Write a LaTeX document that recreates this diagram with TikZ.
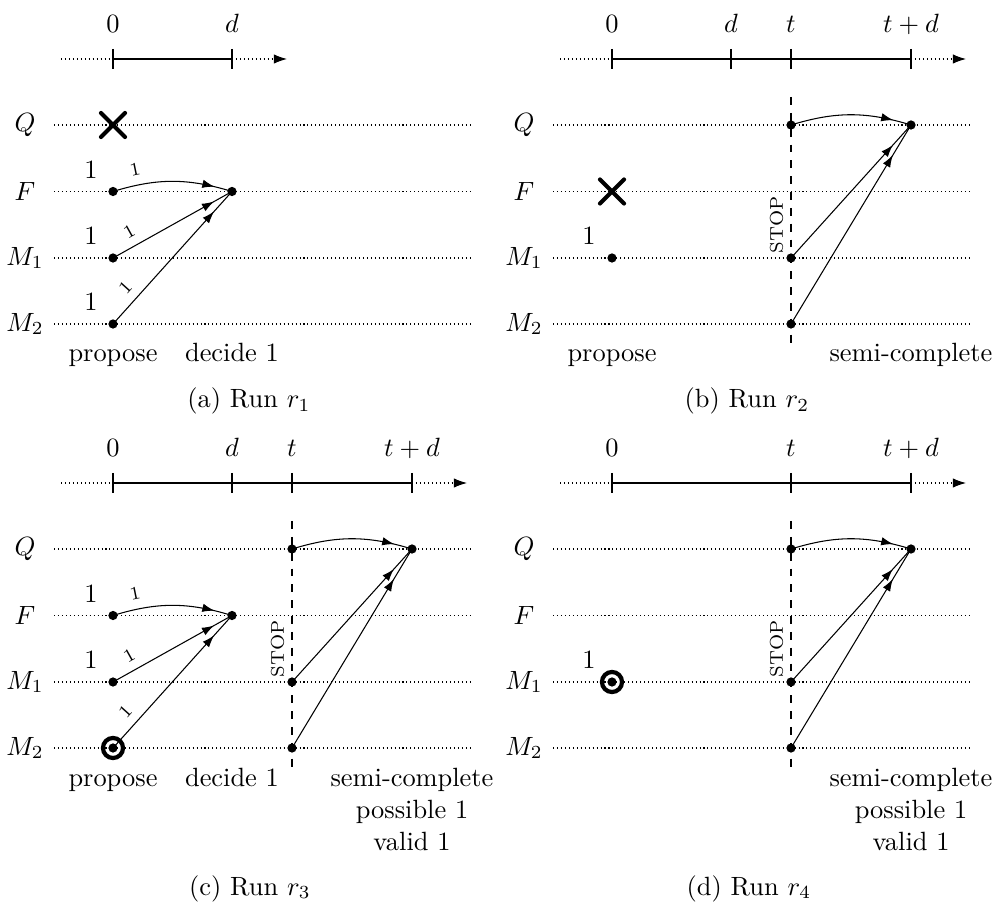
\documentclass[tikz,border=0pt]{standalone}
\usetikzlibrary{decorations.markings,calc,arrows.meta}
\begin{document}
\begin{tikzpicture}[x=0.3788pt,y=-0.3788pt,
  rowline/.style={dash pattern=on 0.4pt off 1.1pt},
  rowlab/.style={inner sep=0pt},
  ticklab/.style={anchor=base,inner sep=0pt},
  btm/.style={anchor=base,inner sep=0pt},
  btmmulti/.style={anchor=north,align=center,inner sep=0pt},
  captext/.style={anchor=base,inner sep=0pt},
  onelab/.style={inner sep=0pt},
  dotn/.style={circle,fill,inner sep=0pt,minimum size=3.5pt},
  bull/.style={circle,draw,line width=1.6pt,inner sep=0pt,minimum size=7.6pt},
  xmark/.style={line width=1.6pt,line cap=round},
  msg/.style={postaction={decorate},decoration={markings,mark=at position 0.85 with {\arrow{Latex[length=4.6pt,width=3.2pt]}}}},
  axtip/.style={-{Latex[length=5pt,width=3.6pt]}},
  lbl/.style={font=\scriptsize,sloped,above,pos=0.2},
  stoplab/.style={font=\scriptsize,rotate=90,inner sep=0pt},
  vdash/.style={dashed}
]
\useasboundingbox (0,0) rectangle (998,905);

\newcommand\myrows[1]{%
  \foreach \n/\y/\t in {Q/125/Q,F/191.5/F,M1/258/M_1,M2/324/M_2}{%
    \node[rowlab] (#1\n) at (25,\y) {$\t$};
    \coordinate (#1\n-s) at (54,\y);
    \coordinate (#1\n-e) at (472,\y);
    \draw[rowline] (#1\n-s) -- (#1\n-e);
  }}
\newcommand\myaxis[3]{%
  \coordinate (#1ax0) at (61,59);
  \coordinate (#1axa) at (113,59);
  \coordinate (#1axb) at (#2,59);
  \coordinate (#1ax1) at ({#2+55},59);
  \draw[rowline] (#1ax0) -- (#1axa);
  \draw (#1axa) -- (#1axb);
  \draw[rowline,axtip] (#1axb) -- (#1ax1);
  \foreach \x/\l in {#3}{%
    \draw (\x,49) -- (\x,69);
    \node[ticklab] at (\x,33) {$\l$};
  }}

% ---------------- (a)
\begin{scope}
\myrows{a}
\myaxis{a}{232}{113/0,232/d}
\coordinate (aX) at (113,125);
\draw[xmark] (aX) ++(-12,-12) -- ++(24,24) (aX) ++(-12,12) -- ++(24,-24);
\node[dotn] (aF0) at (113,191.5) {};
\node[dotn] (aM10) at (113,258) {};
\node[dotn] (aM20) at (113,324) {};
\node[dotn] (aD) at (232,191.5) {};
\node[onelab] (aF1) at (91,170) {1};
\node[onelab] (aM11) at (91,236) {1};
\node[onelab] (aM21) at (91,302) {1};
\draw[msg] (aF0.center) to[bend left=17] node[lbl]{1} (aD.center);
\draw[msg] (aM10.center) -- node[lbl]{1} (aD.center);
\draw[msg] (aM20.center) -- node[lbl]{1} (aD.center);
\node[btm] (aprop) at (113,362) {propose};
\node[btm] (adec) at (232,362) {decide 1};
\node[captext] (acap) at (249,408) {(a) Run $r_1$};
\end{scope}

% ---------------- (b)
\begin{scope}[shift={(499,0)}]
\myrows{b}
\myaxis{b}{412}{113/0,232/d,292/t,412/t+d}
\coordinate (bX) at (113,191.5);
\draw[xmark] (bX) ++(-12,-12) -- ++(24,24) (bX) ++(-12,12) -- ++(24,-24);
\node[dotn] (bM10) at (113,258) {};
\node[onelab] (bM11) at (90,236) {1};
\coordinate (bs0) at (292,97);
\coordinate (bs1) at (292,347);
\draw[vdash] (bs0) -- (bs1);
\node[stoplab] (bstop) at (277.5,225) {STOP};
\node[dotn] (bQt) at (292,125) {};
\node[dotn] (bM1t) at (292,258) {};
\node[dotn] (bM2t) at (292,324) {};
\node[dotn] (bE) at (412,125) {};
\draw[msg] (bQt.center) to[bend left=17] (bE.center);
\draw[msg] (bM1t.center) -- (bE.center);
\draw[msg] (bM2t.center) -- (bE.center);
\node[btm] (bprop) at (113,362) {propose};
\node[btm] (bsemi) at (412,362) {semi-complete};
\node[captext] (bcap) at (248,408) {(b) Run $r_2$};
\end{scope}

% ---------------- (c)
\begin{scope}[shift={(0,424)}]
\myrows{c}
\myaxis{c}{412}{113/0,232/d,292/t,412/t+d}
\node[dotn] (cF0) at (113,191.5) {};
\node[dotn] (cM10) at (113,258) {};
\node[bull] (cM2b) at (113,324) {};
\node[dotn] (cM20) at (113,324) {};
\node[dotn] (cD) at (232,191.5) {};
\node[onelab] (cF1) at (91,170) {1};
\node[onelab] (cM11) at (91,236) {1};
\draw[msg] (cF0.center) to[bend left=17] node[lbl]{1} (cD.center);
\draw[msg] (cM10.center) -- node[lbl]{1} (cD.center);
\draw[msg] (cM20.center) -- node[lbl]{1} (cD.center);
\coordinate (cs0) at (292,97);
\coordinate (cs1) at (292,347);
\draw[vdash] (cs0) -- (cs1);
\node[stoplab] (cstop) at (277.5,225) {STOP};
\node[dotn] (cQt) at (292,125) {};
\node[dotn] (cM1t) at (292,258) {};
\node[dotn] (cM2t) at (292,324) {};
\node[dotn] (cE) at (412,125) {};
\draw[msg] (cQt.center) to[bend left=17] (cE.center);
\draw[msg] (cM1t.center) -- (cE.center);
\draw[msg] (cM2t.center) -- (cE.center);
\node[btm] (cprop) at (113,362) {propose};
\node[btm] (cdec) at (232,362) {decide 1};
\node[btmmulti] (csemi) at (412,344) {semi-complete\\possible 1\\valid 1};
\node[captext] (ccap) at (250,471) {(c) Run $r_3$};
\end{scope}

% ---------------- (d)
\begin{scope}[shift={(499,424)}]
\myrows{d}
\myaxis{d}{412}{113/0,292/t,412/t+d}
\node[bull] (dM1b) at (113,258) {};
\node[dotn] (dM10) at (113,258) {};
\node[onelab] (dM11) at (90,236) {1};
\coordinate (ds0) at (292,97);
\coordinate (ds1) at (292,347);
\draw[vdash] (ds0) -- (ds1);
\node[stoplab] (dstop) at (277.5,225) {STOP};
\node[dotn] (dQt) at (292,125) {};
\node[dotn] (dM1t) at (292,258) {};
\node[dotn] (dM2t) at (292,324) {};
\node[dotn] (dE) at (412,125) {};
\draw[msg] (dQt.center) to[bend left=17] (dE.center);
\draw[msg] (dM1t.center) -- (dE.center);
\draw[msg] (dM2t.center) -- (dE.center);
\node[btmmulti] (dsemi) at (412,344) {semi-complete\\possible 1\\valid 1};
\node[captext] (dcap) at (250,471) {(d) Run $r_4$};
\end{scope}
\end{tikzpicture}
\end{document}
